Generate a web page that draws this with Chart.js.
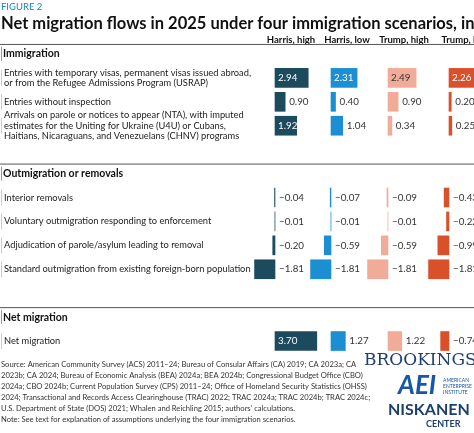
<!DOCTYPE html>
<html><head><meta charset="utf-8">
<script src="https://cdn.jsdelivr.net/npm/chart.js@4"></script>
<style>html,body{margin:0;padding:0;background:#fff}#c{display:block}</style>
</head><body>
<canvas id="c" width="474" height="433"></canvas>
<script>
const rowKinds = ['h','r','r','r','g','h','r','r','r','r','g','h','r'];
const rowLabels = [
 ['Immigration'],
 ['Entries with temporary visas, permanent visas issued abroad,','or from the Refugee Admissions Program (USRAP)'],
 ['Entries without inspection'],
 ['Arrivals on parole or notices to appear (NTA), with imputed','estimates for the Uniting for Ukraine (U4U) or Cubans,','Haitians, Nicaraguans, and Venezuelans (CHNV) programs'],
 [''],
 ['Outmigration or removals'],
 ['Interior removals'],
 ['Voluntary outmigration responding to enforcement'],
 ['Adjudication of parole/asylum leading to removal'],
 ['Standard outmigration from existing foreign-born population'],
 [''],
 ['Net migration'],
 ['Net migration']
];
const scenarios = ['Harris, high','Harris, low','Trump, high','Trump, low'];
const harrisHigh = [null,2.94,0.90,1.92,null,null,-0.04,-0.01,-0.20,-1.81,null,null,3.70];
const harrisLow  = [null,2.31,0.40,1.04,null,null,-0.07,-0.01,-0.59,-1.81,null,null,1.27];
const trumpHigh  = [null,2.49,0.90,0.34,null,null,-0.09,-0.01,-0.59,-1.81,null,null,1.22];
const trumpLow   = [null,2.26,0.20,0.25,null,null,-0.43,-0.22,-0.99,-1.81,null,null,-0.74];
const seriesData = [harrisHigh,harrisLow,trumpHigh,trumpLow];
const colors = ['#1c4b5d','#1b8fd2','#f1ac99','#d9502b'];
const textOnBar = ['#fff','#fff','#333','#fff'];
const baselines = [275,331,388,449];
const ppu = 11.3, W = 474;
const FONT = 'Lato, "Open Sans", sans-serif';

const scales = {y:{type:'category',labels:rowLabels.map((l,i)=>'r'+i),display:false,offset:true,grid:{display:false}}};
baselines.forEach((b,i)=>{scales['x'+i]={type:'linear',display:false,min:-b/ppu,max:(W-b)/ppu};});

const datasets = seriesData.map((d,i)=>({
  label:scenarios[i], data:d, xAxisID:'x'+i, backgroundColor:colors[i],
  grouped:false, barThickness:19, borderWidth:0
}));

const deco = {
 id:'deco',
 afterDatasetsDraw(chart){
  const ctx=chart.ctx, y=chart.scales.y;
  ctx.save();
  ctx.textBaseline='middle';
  ctx.fillStyle='#1b7fc0'; ctx.font='9.5px '+FONT; ctx.textAlign='left';
  ctx.fillText('FIGURE 2',1,7);
  ctx.fillStyle='#111'; ctx.font='bold 16.5px '+FONT;
  ctx.fillText('Net migration flows in 2025 under four immigration scenarios, in millions',1,24);
  ctx.font='bold 9.5px '+FONT; ctx.textAlign='center';
  scenarios.forEach((s,i)=>ctx.fillText(s,baselines[i]+16,40));
  ctx.strokeStyle='#555'; ctx.lineWidth=1;
  rowKinds.forEach((k,i)=>{
   if(k==='h'){const py=y.getPixelForValue(i)-10; ctx.beginPath();ctx.moveTo(0,py+0.5);ctx.lineTo(W,py+0.5);ctx.stroke();}
  });
  ctx.textAlign='left';
  rowLabels.forEach((lines,i)=>{
   const py=y.getPixelForValue(i);
   if(rowKinds[i]==='h'){ctx.fillStyle='#111';ctx.font='bold 10.5px '+FONT;ctx.fillText(lines[0],3,py);
     ctx.strokeStyle='#999';ctx.beginPath();ctx.moveTo(1.5,py-7);ctx.lineTo(1.5,py+7);ctx.stroke();}
   else if(rowKinds[i]==='r'){ctx.fillStyle='#222';ctx.font='9.3px '+FONT;
     const n=lines.length; lines.forEach((t,j)=>ctx.fillText(t,4,py+(j-(n-1)/2)*10.5));
     ctx.strokeStyle='#ccc';ctx.beginPath();ctx.moveTo(1.5,py-8);ctx.lineTo(1.5,py+8);ctx.stroke();}
  });
  ctx.font='9.8px '+FONT;
  seriesData.forEach((d,si)=>{
   const xs=chart.scales['x'+si];
   d.forEach((v,i)=>{
    if(v===null)return;
    const py=y.getPixelForValue(i), x0=xs.getPixelForValue(0), x1=xs.getPixelForValue(v);
    const t=v.toFixed(2).replace('-','\u2212');
    if(v>=1.9){ctx.fillStyle=textOnBar[si];ctx.fillText(t,x0+3,py);}
    else{ctx.fillStyle='#333';ctx.fillText(t,Math.max(x0,x1)+4,py);}
   });
  });
  ctx.fillStyle='#333'; ctx.font='7.6px '+FONT;
  const foot=['Source: American Community Survey (ACS) 2011\u201324; Bureau of Consular Affairs (CA) 2019; CA 2023a; CA',
  '2023b; CA 2024; Bureau of Economic Analysis (BEA) 2024a; BEA 2024b; Congressional Budget Office (CBO)',
  '2024a; CBO 2024b; Current Population Survey (CPS) 2011\u201324; Office of Homeland Security Statistics (OHSS)',
  '2024; Transactional and Records Access Clearinghouse (TRAC) 2022; TRAC 2024a; TRAC 2024b; TRAC 2024c;',
  'U.S. Department of State (DOS) 2021; Whalen and Reichling 2015; authors\u2019 calculations.',
  'Note: See text for explanation of assumptions underlying the four immigration scenarios.'];
  foot.forEach((t,j)=>ctx.fillText(t,1,365+j*11));
  ctx.fillStyle='#1f3e72'; ctx.font='17px "DejaVu Serif", serif'; ctx.fillText('BROOKINGS',364,361);
  ctx.fillStyle='#1a56a8'; ctx.font='italic bold 26px '+FONT; ctx.fillText('AEI',398,386);
  ctx.font='5px '+FONT; ctx.fillText('AMERICAN',443,380); ctx.fillText('ENTERPRISE',443,386); ctx.fillText('INSTITUTE',443,392);
  ctx.fillStyle='#1f3e72'; ctx.font='bold 16px '+FONT; ctx.fillText('NISKANEN',388,410);
  ctx.font='bold 9px '+FONT; ctx.fillText('CENTER',426,424);
  ctx.restore();
 }
};

new Chart(document.getElementById('c'),{
 type:'bar',
 data:{labels:rowLabels.map((l,i)=>'r'+i),datasets},
 options:{indexAxis:'y',responsive:false,animation:false,
  layout:{padding:{top:42,bottom:80,left:0,right:0}},
  plugins:{legend:{display:false},tooltip:{enabled:false},title:{display:false}},
  scales},
 plugins:[deco]
});
</script>
</body></html>
